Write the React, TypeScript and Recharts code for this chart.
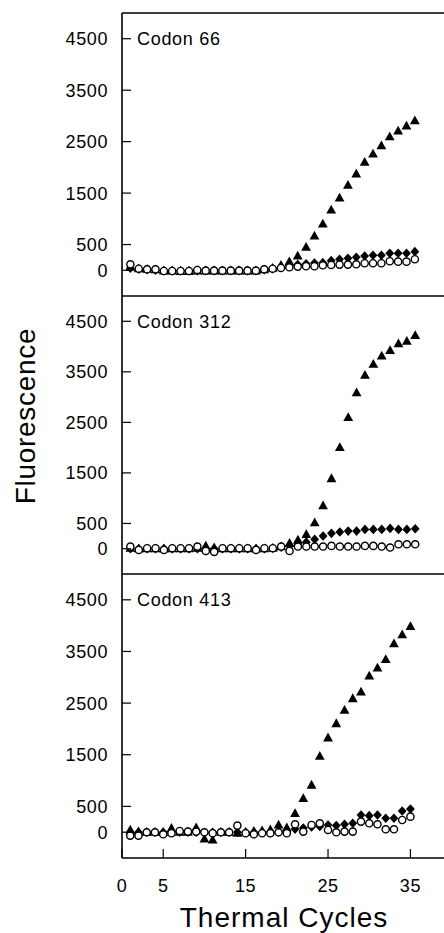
import React from 'react'
import { ScatterChart, Scatter, XAxis, YAxis, ReferenceLine } from 'recharts'

// thermal cycle numbers (x)
const cycles = [
  1, 2, 3, 4, 5, 6, 7, 8, 9, 10, 11, 12, 13, 14, 15, 16, 17, 18,
  19, 20, 21, 22, 23, 24, 25, 26, 27, 28, 29, 30, 31, 32, 33, 34, 35,
]

const xTicks = [0, 5, 15, 25, 35]
const yTicks = [0, 500, 1500, 2500, 3500, 4500]

// Codon 66
const tri66 = [60, 30, 20, 10, -10, -10, -20, -20, -10, -10, -10, -10, -10, -10, -10, -10, 10, 40,
  100, 167, 278, 447, 667, 900, 1172, 1405, 1652, 1872, 2099, 2260, 2422, 2597, 2708, 2805, 2908]
const dia66 = [40, 20, 10, 0, -10, -10, -10, -10, -10, -10, -10, -10, -10, -10, -10, -10, 10, 30,
  60, 90, 110, 125, 140, 148, 187, 214, 233, 253, 278, 291, 291, 330, 330, 330, 362]
const circ66 = [116, 31, 19, 19, -14, -14, -14, -14, 6, -7, -7, -7, -7, -7, -7, -7, 19, 31,
  45, 58, 71, 78, 78, 97, 104, 110, 110, 116, 136, 136, 136, 175, 168, 168, 214]

// Codon 312
const tri312 = [10, 0, 0, 0, 0, 0, 0, 0, 10, 56, 20, 0, 0, 0, 0, 0, 0, 10, 40,
  108, 173, 284, 514, 853, 1388, 2003, 2598, 3088, 3435, 3651, 3814, 3925, 4055, 4108, 4219]
const dia312 = [0, 0, 0, 0, 0, 0, 0, 0, 0, 0, 0, 0, 0, 0, 0, 0, 0, 10, 30, 60, 100, 130,
  186, 251, 304, 330, 349, 349, 382, 382, 382, 402, 382, 382, 395]
const circ312 = [43, -23, 10, 10, -23, 10, 10, 10, 43, -43, -62, 10, 10, 10, 10, -23, 10, 10,
  43, -43, 43, 43, 43, 43, 56, 43, 43, 43, 56, 56, 43, 23, 88, 88, 88]

// Codon 413
const tri413 = [43, 11, 0, 0, 0, 75, 0, 0, 88, -131, -150, 0, 0, -21, 0, 20, 30, 50, 140, 88,
  365, 655, 913, 1473, 1828, 2104, 2362, 2588, 2717, 3026, 3181, 3347, 3650, 3824, 3985]
const dia413 = [0, 0, 0, 0, 0, 0, 0, 0, 0, 0, 0, 0, 0, 0, 0, 0, 0, 0, 0, 10, 60, 80, 100, 110,
  140, 127, 153, 172, 333, 320, 333, 269, 269, 410, 449]
const circ413 = [-66, -66, -2, -2, -41, -21, 24, 11, 11, -2, -21, -2, -2, 127, -21, -41, -21, -21,
  -2, -21, 153, 11, 140, 172, 43, -2, 11, 11, 205, 172, 153, 56, 56, 236, 301]

const FONT = '"Liberation Sans", Arial, Helvetica, sans-serif'
const Y_MIN = -500
const Y_MAX = 5000
const AXIS_W = 122
const CHART_W = 450

const panels = [
  { name: 'Codon 66', tri: tri66, dia: dia66, circ: circ66, top: 13, h: 283, xMax: 39.2 },
  { name: 'Codon 312', tri: tri312, dia: dia312, circ: circ312, top: 296, h: 278, xMax: 39.15 },
  { name: 'Codon 413', tri: tri413, dia: dia413, circ: circ413, top: 574, h: 284, xMax: 39.8 },
]

const toPoints = (vals: number[]) => cycles.map((c, i) => ({ cycle: c, value: vals[i] }))

const Triangle = (props: any) => {
  const { cx, cy } = props
  return <polygon points={`${cx},${cy - 5.2} ${cx + 4.9},${cy + 3.6} ${cx - 4.9},${cy + 3.6}`} fill="#000" />
}

const Diamond = (props: any) => {
  const { cx, cy } = props
  return <polygon points={`${cx},${cy - 4.8} ${cx + 4.4},${cy} ${cx},${cy + 4.8} ${cx - 4.4},${cy}`} fill="#000" />
}

const Ring = (props: any) => {
  const { cx, cy } = props
  return <circle cx={cx} cy={cy} r={3.6} fill="#fff" stroke="#000" strokeWidth={1.4} />
}

const YTick = ({ x, y, payload }: any) => (
  <g>
    <line x1={x} x2={x + 9} y1={y} y2={y} stroke="#000" strokeWidth={1.2} />
    <text x={x - 14} y={y} dy="0.36em" textAnchor="end" fontFamily={FONT} fontSize={18}
      letterSpacing={0.6} fill="#000">
      {payload.value}
    </text>
  </g>
)

const XTick = ({ x, y, payload }: any) => (
  <g>
    <line x1={x} x2={x} y1={y} y2={y - 9} stroke="#000" strokeWidth={1.2} />
    <text x={x} y={y + 34} textAnchor="middle" fontFamily={FONT} fontSize={18}
      letterSpacing={0.6} fill="#000">
      {payload.value}
    </text>
  </g>
)

function Panel({ p, last, first }: { p: typeof panels[number]; last: boolean; first: boolean }) {
  const xAxisH = last ? 75 : 2
  return (
    <div style={{ position: 'absolute', left: 0, top: p.top - 2 }}>
      <ScatterChart width={CHART_W} height={p.h + 2 + xAxisH} margin={{ top: 2, right: 0, bottom: 0, left: 0 }}>
        <XAxis
          type="number"
          dataKey="cycle"
          domain={[0, p.xMax]}
          allowDataOverflow
          ticks={last ? xTicks : []}
          interval={0}
          tick={last ? <XTick /> : false}
          tickLine={false}
          tickSize={0}
          tickMargin={0}
          height={xAxisH}
          axisLine={{ stroke: '#000', strokeWidth: 1.6 }}
        />
        <YAxis
          type="number"
          dataKey="value"
          domain={[Y_MIN, Y_MAX]}
          allowDataOverflow
          ticks={yTicks}
          interval={0}
          tick={<YTick />}
          tickLine={false}
          tickSize={0}
          tickMargin={0}
          width={AXIS_W}
          axisLine={{ stroke: '#000', strokeWidth: 1.6 }}
        />
        {first && <ReferenceLine y={Y_MAX} stroke="#000" strokeWidth={1.6} />}
        <Scatter data={toPoints(p.tri)} shape={Triangle} isAnimationActive={false} />
        <Scatter data={toPoints(p.dia)} shape={Diamond} isAnimationActive={false} />
        <Scatter data={toPoints(p.circ)} shape={Ring} isAnimationActive={false} />
      </ScatterChart>
    </div>
  )
}

export default function App() {
  return (
    <div style={{ position: 'relative', width: 444, height: 933, overflow: 'hidden', background: '#fff' }}>
      <style>{'body{margin:0}'}</style>
      {panels.map((p, i) => (
        <Panel key={p.name} p={p} first={i === 0} last={i === panels.length - 1} />
      ))}
      <svg width={444} height={933} style={{ position: 'absolute', left: 0, top: 0, pointerEvents: 'none' }}>
        {panels.map(p => {
          const y4500 = p.top + (p.h * (Y_MAX - 4500)) / (Y_MAX - Y_MIN)
          return (
            <text key={p.name} x={137} y={y4500 + 6.5} fontFamily={FONT} fontSize={18}
              letterSpacing={0.7} fill="#000">
              {p.name}
            </text>
          )
        })}
        <text transform="translate(35, 416) rotate(-90)" textAnchor="middle" fontFamily={FONT}
          fontSize={28} letterSpacing={0.7} fill="#000">
          Fluorescence
        </text>
        <text x={284} y={927} textAnchor="middle" fontFamily={FONT} fontSize={28}
          letterSpacing={1} fill="#000">
          Thermal Cycles
        </text>
      </svg>
    </div>
  )
}
